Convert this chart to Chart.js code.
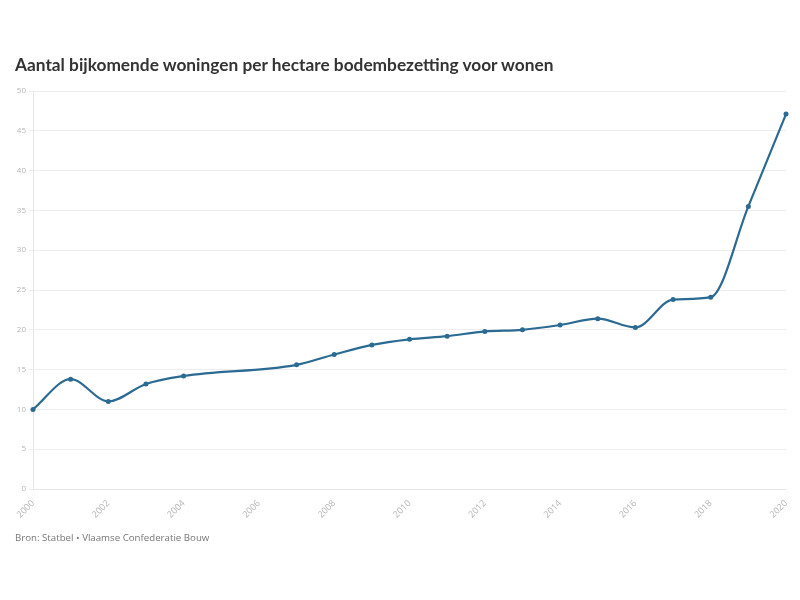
<!DOCTYPE html>
<html>
<head>
<meta charset="utf-8">
<script src="https://cdn.jsdelivr.net/npm/chart.js@4/dist/chart.umd.min.js"></script>
<style>
  html, body { margin: 0; padding: 0; background: #fff; }
  #wrap { position: relative; width: 800px; height: 600px; overflow: hidden; }
  #chart { position: absolute; left: 0; top: 0; }
  #title { position: absolute; left: 15px; top: 54px; font-family: Lato, "Open Sans", sans-serif; font-weight: bold; font-size: 17.3px; color: #333; white-space: nowrap; }
  #source { position: absolute; left: 15px; top: 531px; font-family: "Open Sans", sans-serif; font-size: 9.7px; color: #777; white-space: nowrap; }
</style>
</head>
<body>
<div id="wrap">
  <canvas id="chart" width="800" height="600"></canvas>
  <div id="title">Aantal bijkomende woningen per hectare bodembezetting voor wonen</div>
  <div id="source">Bron: Statbel • Vlaamse Confederatie Bouw</div>
</div>
<script>
const years = ["2000","2001","2002","2003","2004","2005","2006","2007","2008","2009","2010","2011","2012","2013","2014","2015","2016","2017","2018","2019","2020"];
const values = [10.0, 13.8, 11.0, 13.2, 14.2, null, null, 15.6, 16.9, 18.1, 18.8, 19.2, 19.8, 20.0, 20.6, 21.4, 20.3, 23.8, 24.1, 35.5, 47.1];
const yTicks = [0, 5, 10, 15, 20, 25, 30, 35, 40, 45, 50];

const lineColor = "#2b6a92";

new Chart(document.getElementById("chart"), {
  type: "line",
  data: {
    labels: years,
    datasets: [{
      data: values,
      borderColor: lineColor,
      backgroundColor: lineColor,
      borderWidth: 2.2,
      pointRadius: 2.5,
      pointBackgroundColor: lineColor,
      pointBorderWidth: 0,
      cubicInterpolationMode: "monotone",
      spanGaps: true
    }]
  },
  options: {
    responsive: false,
    animation: false,
    layout: { padding: { left: 0, right: 14, top: 91, bottom: 0 } },
    plugins: { legend: { display: false }, tooltip: { enabled: false } },
    scales: {
      x: {
        offset: false,
        grid: { display: false, drawTicks: false },
        border: { display: true, color: "#e6e6e6" },
        ticks: {
          autoSkip: false,
          maxRotation: 45,
          minRotation: 45,
          padding: 9,
          color: "#b5b5b5",
          font: { family: "Open Sans", size: 9 },
          callback: function(v, i) { return i % 2 === 0 ? years[i] : ""; }
        },
        afterFit: function(s) { s.height = 600 - 489; s.paddingRight = 0; s.paddingLeft = 0; }
      },
      y: {
        min: 0,
        max: 50,
        afterBuildTicks: function(s) { s.ticks = yTicks.map(v => ({ value: v })); },
        grid: { color: "#ededed", drawTicks: true, tickLength: 4, tickColor: "#ededed" },
        border: { display: true, color: "#e6e6e6" },
        ticks: {
          color: "#b5b5b5",
          padding: 3,
          font: { family: "Open Sans", size: 8 }
        },
        afterFit: function(s) { s.width = 33; s.paddingTop = 0; s.paddingBottom = 0; }
      }
    }
  }
});
</script>
</body>
</html>
